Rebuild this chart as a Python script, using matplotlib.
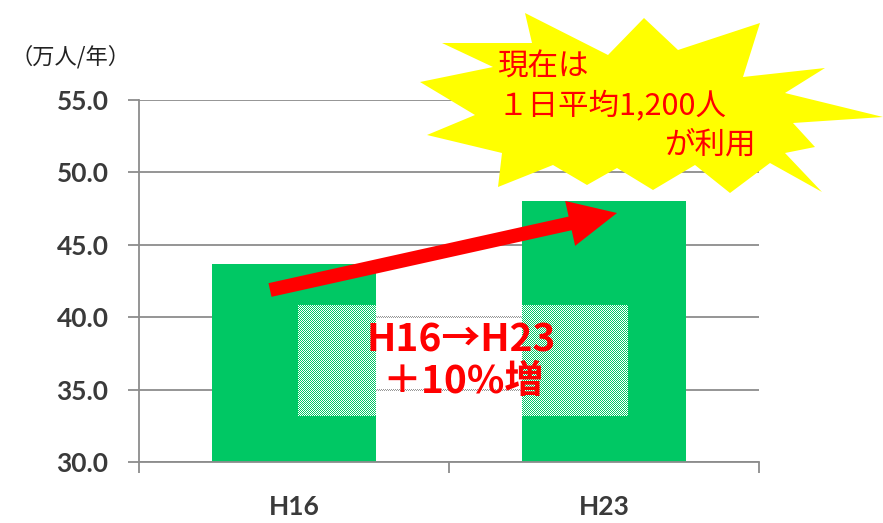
#!/usr/bin/env python3
"""Annual ridership bar chart, H16 vs H23."""

import matplotlib
matplotlib.use('Agg')
import matplotlib.pyplot as plt
from matplotlib.patches import Polygon, FancyArrow
from matplotlib.ticker import FormatStrFormatter
import numpy as np

years = ['H16', 'H23']
riders = [43.7, 48.0]          # 万人/年
y_ticks = [30.0, 35.0, 40.0, 45.0, 50.0, 55.0]

JP = ['Noto Sans CJK JP', 'DejaVu Sans']
GREEN = '#00C864'
GRID = '#8c8c8c'


def main():
    fig = plt.figure(figsize=(8.83, 5.23), dpi=100)
    ax = fig.add_axes([0.1574, 0.1166, 0.7022, 0.692])

    x = np.arange(len(years))
    ax.bar(x, riders, width=0.53, color=GREEN, zorder=2)

    ax.set_xlim(-0.5, len(years) - 0.5)
    ax.set_ylim(y_ticks[0], y_ticks[-1])
    ax.set_yticks(y_ticks)
    ax.yaxis.set_major_formatter(FormatStrFormatter('%.1f'))
    ax.grid(axis='y', color=GRID, linewidth=1.3)
    ax.set_axisbelow(True)

    for side in ('top', 'right'):
        ax.spines[side].set_visible(False)
    for side in ('left', 'bottom'):
        ax.spines[side].set_color(GRID)
        ax.spines[side].set_linewidth(1.3)

    ax.tick_params(axis='y', length=8, width=1.3, color=GRID, pad=14,
                   labelsize=19, labelcolor='#3a3a3a')
    for lab in ax.get_yticklabels():
        lab.set_family('Lato')
        lab.set_fontweight('bold')

    # category labels centred, tick marks on the category boundaries
    ax.set_xticks(x, years)
    ax.set_xticks(np.arange(len(years) + 1) - 0.5, minor=True)
    ax.tick_params(axis='x', which='major', length=0, pad=24,
                   labelsize=19, labelcolor='#3a3a3a')
    ax.tick_params(axis='x', which='minor', length=8, width=1.3, color=GRID)
    for lab in ax.get_xticklabels():
        lab.set_family('Lato')
        lab.set_fontweight('bold')

    # overlay in pixel units for the callouts
    ov = fig.add_axes([0, 0, 1, 1], zorder=5)
    ov.axis('off')

    ov.text(10, 57, '（万人/年）', fontsize=16, va='center', ha='left',
            family=JP, color='#222222')

    # checkered highlight band
    h, w = 111, 330
    yy, xx = np.indices((h, w))
    check = np.zeros((h, w, 4))
    check[(yy + xx) % 2 == 0] = [1, 1, 1, 1]
    ov.imshow(check, extent=(298, 628, 416, 305), interpolation='nearest',
              aspect='auto', zorder=2)
    ov.set_xlim(0, 883)
    ov.set_ylim(523, 0)

    ov.text(461, 340, 'H16→H23', fontsize=28, fontweight='bold', color='red',
            ha='center', va='center', family=JP, zorder=4)
    ov.text(463, 382, '＋10%増', fontsize=28, fontweight='bold', color='red',
            ha='center', va='center', family=JP, zorder=4)

    # growth arrow
    ov.add_patch(FancyArrow(270, 290, 347, -77, width=14, head_width=46,
                            head_length=48, length_includes_head=True,
                            color='red', lw=0, zorder=3))

    # starburst callout
    burst = [(525, 13), (608, 55), (644, 18), (678, 50), (760, 23), (743, 77),
             (825, 68), (785, 93), (883, 117), (793, 123), (815, 147),
             (785, 153), (822, 192), (770, 163), (730, 193), (695, 165),
             (653, 190), (617, 168), (587, 185), (553, 165), (498, 187),
             (502, 153), (427, 135), (475, 115), (420, 82), (493, 67),
             (442, 43), (532, 43)]
    ov.add_patch(Polygon(burst, closed=True, facecolor='#FFFF00',
                         edgecolor='none', zorder=6))
    ov.text(497, 67, '現在は', fontsize=22, color='red', ha='left',
            va='center', family=JP, zorder=7)
    ov.text(497, 107, '１日平均1,200人', fontsize=22, color='red', ha='left',
            va='center', family=JP, zorder=7)
    ov.text(756, 145, 'が利用', fontsize=22, color='red', ha='right',
            va='center', family=JP, zorder=7)

    fig.savefig('out.png', dpi=100, facecolor='white')
    plt.close(fig)


if __name__ == '__main__':
    main()
